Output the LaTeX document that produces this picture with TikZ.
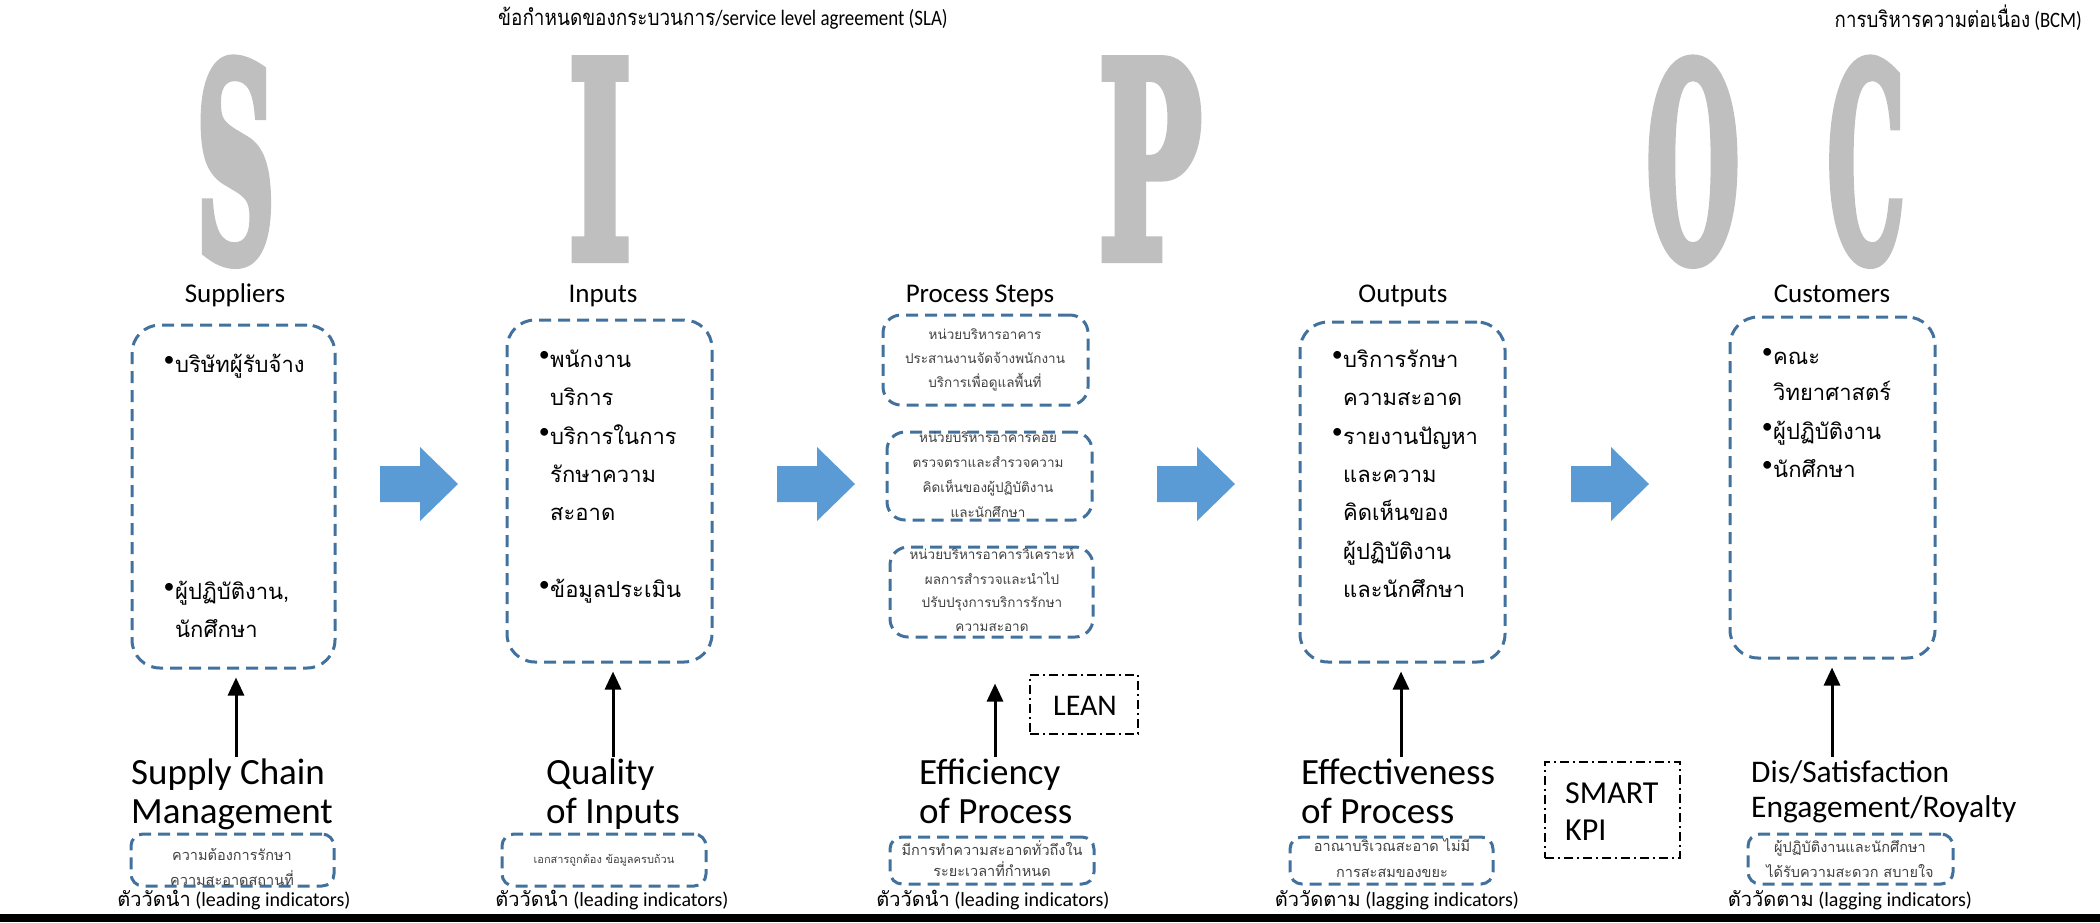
\documentclass[tikz,border=0pt]{standalone}
\usepackage{fontspec}
\usepackage{graphicx}
\usetikzlibrary{arrows.meta}
\setmainfont{Carlito}
\newfontfamily\thai[Script=Thai]{Loma}
\newfontfamily\bigserif{DejaVu Serif}[BoldFeatures={FakeBold=4}]
\definecolor{dblue}{HTML}{41719C}
\definecolor{ablue}{HTML}{5B9BD5}
\definecolor{lgray}{HTML}{BFBFBF}
\definecolor{tgray}{HTML}{404040}
\newcommand\bl{\llap{\rmfamily\raisebox{6pt}{•}\hspace{0.5pt}}}
\newcommand\bigletter[3]{\raisebox{0pt}[#3][0pt]{\resizebox{#2}{#3}{#1}}}
\newcommand\blockarrow[1]{\fill[ablue] (#1,466) -- (#1+40,466) -- (#1+40,447) -- (#1+78,484) -- (#1+40,521) -- (#1+40,502) -- (#1,502) -- cycle;}
\tikzset{
  dbox/.style={draw=dblue, line width=3pt, dash pattern=on 12pt off 7pt, rounded corners=28pt, inner sep=0},
  pbox/.style={draw=dblue, line width=3pt, dash pattern=on 12pt off 7pt, rounded corners=18pt, inner sep=0},
  sbox/.style={draw=dblue, line width=3pt, dash pattern=on 12pt off 7pt, rounded corners=12pt, inner sep=0},
  ddbox/.style={draw=black, line width=1.8pt, dash pattern=on 9pt off 4pt on 2pt off 4pt, inner sep=0},
  bigl/.style={text=lgray, inner sep=0, font=\bigserif\bfseries},
  ttl/.style={font=\fontsize{27}{27}\selectfont, anchor=base, inner sep=0},
  big/.style={font=\fontsize{37}{37}\selectfont, anchor=base west, inner sep=0},
  tb/.style={font=\thai\fontsize{22}{22}\selectfont, anchor=base west, inner sep=0},
  pt/.style={font=\thai\fontsize{13.5}{13.5}\selectfont, text=tgray, anchor=base, inner sep=0},
  st/.style={font=\thai\fontsize{14.5}{14.5}\selectfont, text=tgray, anchor=base, inner sep=0},
  ind/.style={font=\fontsize{20}{20}\selectfont, anchor=base, inner sep=0},
  arr/.style={line width=3pt, -{Triangle[width=16pt,length=18pt]}, shorten >=8pt},
}
\begin{document}
\begin{tikzpicture}[x=1pt,y=-1pt]
\useasboundingbox (0,0) rectangle (2100,922);
% top labels
\node[anchor=base west, inner sep=0] (sla) at (498,25) {\scalebox{0.86}[1]{\fontsize{22}{22}\selectfont{\thai ข้อกำหนดของกระบวนการ}/service level agreement (SLA)}};
\node[anchor=base east, inner sep=0] (bcm) at (2082,27) {\scalebox{0.85}[1]{\fontsize{22}{22}\selectfont{\thai การบริหารความต่อเนื่อง} (BCM)}};
% big letters
\node[bigl, anchor=south] (LS) at (235.5,260) {\bigletter{S}{80pt}{200pt}};
\node[bigl, anchor=south] (LI) at (600,258) {\bigletter{I}{64pt}{197pt}};
\node[bigl, anchor=south] (LP) at (1150,258) {\bigletter{P}{104pt}{197pt}};
\node[bigl, anchor=south] (LO) at (1693,260) {\bigletter{O}{94pt}{200pt}};
\node[bigl, anchor=south] (LC) at (1866,260) {\bigletter{C}{78pt}{200pt}};
% titles
\node[ttl] (tS) at (235,302) {Suppliers};
\node[ttl] (tI) at (603,302) {Inputs};
\node[ttl] (tP) at (980,302) {Process Steps};
\node[ttl] (tO) at (1403,302) {Outputs};
\node[ttl] (tC) at (1832,302) {Customers};
% main boxes
\node[dbox, minimum width=203pt, minimum height=343pt] (bS) at (233.5,496.5) {};
\node[dbox, minimum width=205pt, minimum height=342pt] (bI) at (609.5,491) {};
\node[dbox, minimum width=205pt, minimum height=340pt] (bO) at (1402.5,492) {};
\node[dbox, minimum width=205pt, minimum height=341pt] (bC) at (1832.5,487.5) {};
\node[pbox, minimum width=205pt, minimum height=90pt] (p1) at (985.5,360) {};
\node[pbox, minimum width=205pt, minimum height=88pt] (p2) at (989.5,476) {};
\node[pbox, minimum width=203pt, minimum height=90pt] (p3) at (991.5,592) {};
% supplier text
\node[tb] (s1) at (175,372) {\bl บริษัทผู้รับจ้าง};
\node[tb] (s2) at (175,599) {\bl ผู้ปฏิบัติงาน,};
\node[tb] (s3) at (175,637) {นักศึกษา};
% inputs text
\node[tb] (i1) at (550,367) {\bl พนักงาน};
\node[tb] (i2) at (550,405) {บริการ};
\node[tb] (i3) at (550,444) {\bl บริการในการ};
\node[tb] (i4) at (550,482) {รักษาความ};
\node[tb] (i5) at (550,520) {สะอาด};
\node[tb] (i6) at (550,597) {\bl ข้อมูลประเมิน};
% outputs text
\node[tb] (o1) at (1343,367) {\bl บริการรักษา};
\node[tb] (o2) at (1343,405) {ความสะอาด};
\node[tb] (o3) at (1343,444) {\bl รายงานปัญหา};
\node[tb] (o4) at (1343,482) {และความ};
\node[tb] (o5) at (1343,520) {คิดเห็นของ};
\node[tb] (o6) at (1343,559) {ผู้ปฏิบัติงาน};
\node[tb] (o7) at (1343,597) {และนักศึกษา};
% customers text
\node[tb] (c1) at (1773,364) {\bl คณะ};
\node[tb] (c2) at (1773,400) {วิทยาศาสตร์};
\node[tb] (c3) at (1773,439) {\bl ผู้ปฏิบัติงาน};
\node[tb] (c4) at (1773,477) {\bl นักศึกษา};
% process text
\node[pt] (p1a) at (985,339) {หน่วยบริหารอาคาร};
\node[pt] (p1b) at (985,363) {ประสานงานจัดจ้างพนักงาน};
\node[pt] (p1c) at (985,387) {บริการเพื่อดูแลพื้นที่};
\node[pt] (p2a) at (988,442) {หน่วยบริหารอาคารคอย};
\node[pt] (p2b) at (988,467) {ตรวจตราและสำรวจความ};
\node[pt] (p2c) at (988,492) {คิดเห็นของผู้ปฏิบัติงาน};
\node[pt] (p2d) at (988,517) {และนักศึกษา};
\node[pt] (p3a) at (992,559) {หน่วยบริหารอาคารวิเคราะห์};
\node[pt] (p3b) at (992,584) {ผลการสำรวจและนำไป};
\node[pt] (p3c) at (992,607) {ปรับปรุงการบริการรักษา};
\node[pt] (p3d) at (992,631) {ความสะอาด};
% block arrows
\blockarrow{380}
\blockarrow{777}
\blockarrow{1157}
\blockarrow{1571}
% measure labels
\node[big] (mS1) at (131,784) {Supply Chain};
\node[big] (mS2) at (131,823) {Management};
\node[big] (mI1) at (546,784) {Quality};
\node[big] (mI2) at (546,823) {of Inputs};
\node[big] (mP1) at (919,784) {Efficiency};
\node[big] (mP2) at (919,823) {of Process};
\node[big] (mO1) at (1301,784) {Effectiveness};
\node[big] (mO2) at (1301,823) {of Process};
\node[big, font=\fontsize{31.5}{31.5}\selectfont] (mC1) at (1751,782) {Dis/Satisfaction};
\node[big, font=\fontsize{31.5}{31.5}\selectfont] (mC2) at (1751,817) {Engagement/Royalty};
% arrows
\coordinate (aS) at (236,757);
\coordinate (aI) at (613,757);
\coordinate (aP) at (995,757);
\coordinate (aO) at (1401,757);
\coordinate (aC) at (1832,757);
\draw[arr] (aS) -- (bS.south -| aS);
\draw[arr] (aI) -- (bI.south -| aI);
\draw[arr, shorten >=45pt] (aP) -- (p3.south -| aP);
\draw[arr] (aO) -- (bO.south -| aO);
\draw[arr] (aC) -- (bC.south -| aC);
% LEAN and SMART KPI
\node[ddbox, minimum width=108pt, minimum height=59pt] (lean) at (1084,704.5) {};
\node[anchor=base, inner sep=0, font=\fontsize{30}{30}\selectfont] (leant) at (1085,715) {LEAN};
\node[ddbox, minimum width=135pt, minimum height=96pt] (smart) at (1612.5,810) {};
\node[anchor=base west, inner sep=0, font=\fontsize{32}{32}\selectfont] (smart1) at (1565,803) {SMART};
\node[anchor=base west, inner sep=0, font=\fontsize{32}{32}\selectfont] (smart2) at (1565,840) {KPI};
% small boxes
\node[sbox, minimum width=203pt, minimum height=52pt] (sS) at (232.5,860) {};
\node[sbox, minimum width=204pt, minimum height=52pt] (sI) at (604,860) {};
\node[sbox, minimum width=204pt, minimum height=47pt] (sP) at (992,860.5) {};
\node[sbox, minimum width=203pt, minimum height=47pt] (sO) at (1391.5,860.5) {};
\node[sbox, minimum width=205pt, minimum height=50pt] (sC) at (1850.5,859) {};
\node[st] (sS1) at (232,860) {ความต้องการรักษา};
\node[st] (sS2) at (232,885) {ความสะอาดสถานที่};
\node[st, font=\thai\fontsize{11}{11}\selectfont] (sI1) at (604,863) {เอกสารถูกต้อง ข้อมูลครบถ้วน};
\node[st] (sP1) at (992,855) {มีการทำความสะอาดทั่วถึงใน};
\node[st] (sP2) at (992,876) {ระยะเวลาที่กำหนด};
\node[st] (sO1) at (1392,851) {อาณาบริเวณสะอาด ไม่มี};
\node[st] (sO2) at (1392,877) {การสะสมของขยะ};
\node[st] (sC1) at (1850,852) {ผู้ปฏิบัติงานและนักศึกษา};
\node[st] (sC2) at (1850,877) {ได้รับความสะดวก สบายใจ};
% indicator labels
\node[ind] (iS) at (234,906) {{\thai ตัววัดนำ} (leading indicators)};
\node[ind] (iI) at (612,906) {{\thai ตัววัดนำ} (leading indicators)};
\node[ind] (iP) at (993,906) {{\thai ตัววัดนำ} (leading indicators)};
\node[ind] (iO) at (1397,906) {{\thai ตัววัดตาม} (lagging indicators)};
\node[ind] (iC) at (1850,906) {{\thai ตัววัดตาม} (lagging indicators)};
% bottom bar
\fill[black] (0,914) rectangle (2100,922);
\end{tikzpicture}
\end{document}
